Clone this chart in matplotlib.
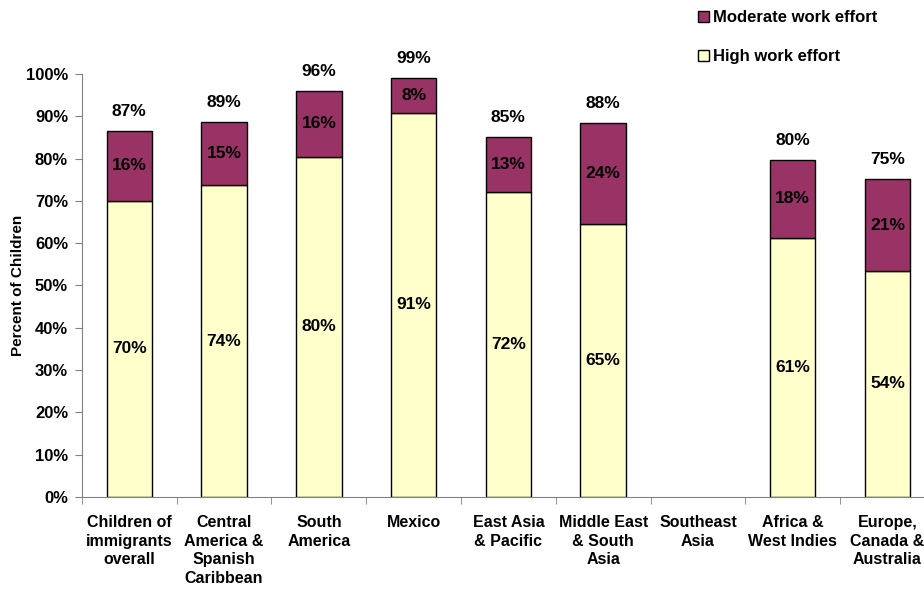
import numpy as np
import matplotlib
matplotlib.use("Agg")
import matplotlib.pyplot as plt
from matplotlib.patches import Patch

plt.rcParams['font.family'] = ['Liberation Sans', 'DejaVu Sans']
plt.rcParams['font.weight'] = 'bold'

categories = ["Children of\nimmigrants\noverall", "Central\nAmerica &\nSpanish\nCaribbean",
              "South\nAmerica", "Mexico", "East Asia\n& Pacific", "Middle East\n& South\nAsia",
              "Southeast\nAsia", "Africa &\nWest Indies", "Europe,\nCanada &\nAustralia"]
high = [70.0, 73.7, 80.4, 90.8, 72.0, 64.5, np.nan, 61.3, 53.5]
moderate = [16.6, 14.9, 15.6, 8.3, 13.1, 24.0, np.nan, 18.4, 21.6]
high_labels = ["70%", "74%", "80%", "91%", "72%", "65%", "", "61%", "54%"]
moderate_labels = ["16%", "15%", "16%", "8%", "13%", "24%", "", "18%", "21%"]
total_labels = ["87%", "89%", "96%", "99%", "85%", "88%", "", "80%", "75%"]

high_color = "#FFFFCC"
mod_color = "#993366"

fig = plt.figure(figsize=(9.24, 5.92), dpi=100)
ax = fig.add_axes([0.0887, 0.1605, 0.923, 0.7145])

x = np.arange(len(categories))
h = np.array(high)
m = np.array(moderate)
w = 0.48
ax.bar(x, h, w, color=high_color, edgecolor="black", linewidth=1.0)
ax.bar(x, m, w, bottom=h, color=mod_color, edgecolor="black", linewidth=1.0)

for i in range(len(categories)):
    if np.isnan(h[i]):
        continue
    ax.text(x[i], h[i] / 2, high_labels[i], ha="center", va="center", fontsize=12.5, fontweight="bold")
    ax.text(x[i], h[i] + m[i] / 2, moderate_labels[i], ha="center", va="center", fontsize=12.5, fontweight="bold")
    ax.annotate(total_labels[i], (x[i], h[i] + m[i]), xytext=(0, 14), textcoords="offset points",
                ha="center", va="center", fontsize=12.5, fontweight="bold")

ax.set_xlim(-0.5, len(categories) - 0.5)
ax.set_ylim(0, 100)
ax.set_yticks(np.arange(0, 101, 10))
ax.set_yticklabels([f"{v}%" for v in range(0, 101, 10)], fontsize=12, fontweight="bold")
ax.set_xticks(x)
ax.set_xticklabels(categories, fontsize=11.5, fontweight="bold", linespacing=1.3)
ax.tick_params(axis="x", which="major", length=0, pad=13)
ax.set_xticks(np.arange(-0.5, len(categories), 1), minor=True)
ax.tick_params(axis="x", which="minor", length=5, color="#808080")
ax.tick_params(axis="y", length=5, color="#808080", pad=5)

for s in ["top", "right"]:
    ax.spines[s].set_visible(False)
ax.spines["left"].set_color("#808080")
ax.spines["bottom"].set_color("#808080")

ax.set_ylabel("Percent of Children", fontsize=11, fontweight="bold")
ax.yaxis.set_label_coords(-0.067, 0.5)

handles = [Patch(facecolor=mod_color, edgecolor="black", label="Moderate work effort"),
           Patch(facecolor=high_color, edgecolor="black", label="High work effort")]
fig.legend(handles=handles, loc="upper left", bbox_to_anchor=(0.745, 1.0), frameon=False,
           handlelength=0.65, handleheight=0.65, handletextpad=0.25, labelspacing=1.45,
           borderaxespad=0.2, prop={"size": 12, "weight": "bold"})

fig.savefig("out.png", dpi=100)
